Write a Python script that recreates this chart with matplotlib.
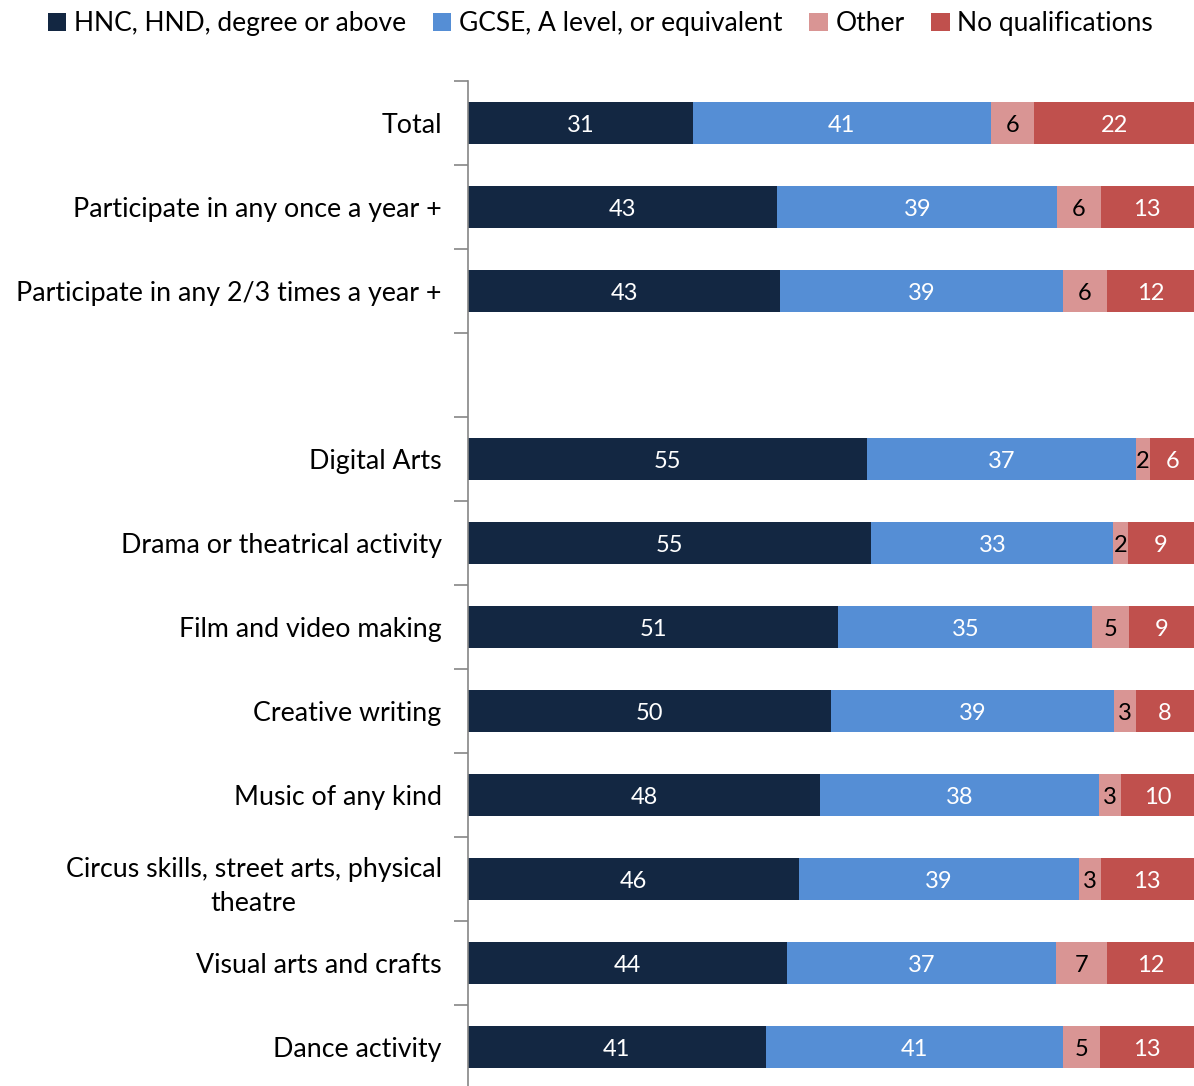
import matplotlib.pyplot as plt
import numpy as np

plt.rcParams['font.family'] = ['Lato', 'DejaVu Sans']

categories = [
    "Total",
    "Participate in any once a year +",
    "Participate in any 2/3 times a year +",
    "",
    "Digital Arts",
    "Drama or theatrical activity",
    "Film and video making",
    "Creative writing",
    "Music of any kind",
    "Circus skills, street arts, physical\ntheatre",
    "Visual arts and crafts",
    "Dance activity",
]
series_names = ["HNC, HND, degree or above", "GCSE, A level, or equivalent",
                "Other", "No qualifications"]
degree = [31, 43, 43, np.nan, 55, 55, 51, 50, 48, 46, 44, 41]
gcse = [41, 39, 39, np.nan, 37, 33, 35, 39, 38, 39, 37, 41]
other = [6, 6, 6, np.nan, 2, 2, 5, 3, 3, 3, 7, 5]
noqual = [22, 13, 12, np.nan, 6, 9, 9, 8, 10, 13, 12, 13]

colors = ["#132742", "#558ED5", "#D99594", "#C0504D"]
text_colors = ["white", "white", "black", "white"]

data = np.array([degree, gcse, other, noqual], dtype=float)
totals = data.sum(axis=0)
shares = data / totals * 100

fig = plt.figure(figsize=(11.94, 10.86), dpi=100)
ax = fig.add_axes([0.392, -0.003, 0.608, 0.928])

n = len(categories)
y = np.arange(n)
left = np.zeros(n)
for i in range(4):
    vals = np.nan_to_num(shares[i])
    ax.barh(y, vals, left=left, height=0.5, color=colors[i],
            label=series_names[i], edgecolor="none")
    for j in range(n):
        if np.isnan(data[i, j]):
            continue
        ax.text(left[j] + vals[j] / 2, y[j], f"{int(data[i, j])}",
                ha="center", va="center_baseline", fontsize=17,
                color=text_colors[i])
    left += vals

ax.set_xlim(0, 100)
ax.set_ylim(n - 0.5, -0.5)
ax.set_yticks(y)
ax.set_yticklabels(categories, fontsize=19.3, multialignment="center",
                   linespacing=1.45)
ax.set_yticks(np.arange(n + 1) - 0.5, minor=True)
ax.tick_params(axis="y", which="major", length=0, pad=19)
ax.tick_params(axis="y", which="minor", length=10, color="#868686", width=1.2)
ax.set_xticks([])
for s in ["top", "right", "bottom"]:
    ax.spines[s].set_visible(False)
ax.spines["left"].set_color("#868686")
ax.spines["left"].set_linewidth(1.2)

handles, labels = ax.get_legend_handles_labels()
fig.legend(handles, labels, loc="center", bbox_to_anchor=(0.503, 0.978),
           ncol=4, frameon=False, fontsize=19, handlelength=0.7,
           handleheight=0.7, handletextpad=0.3, columnspacing=1.0)

fig.savefig("out.png", dpi=100)
